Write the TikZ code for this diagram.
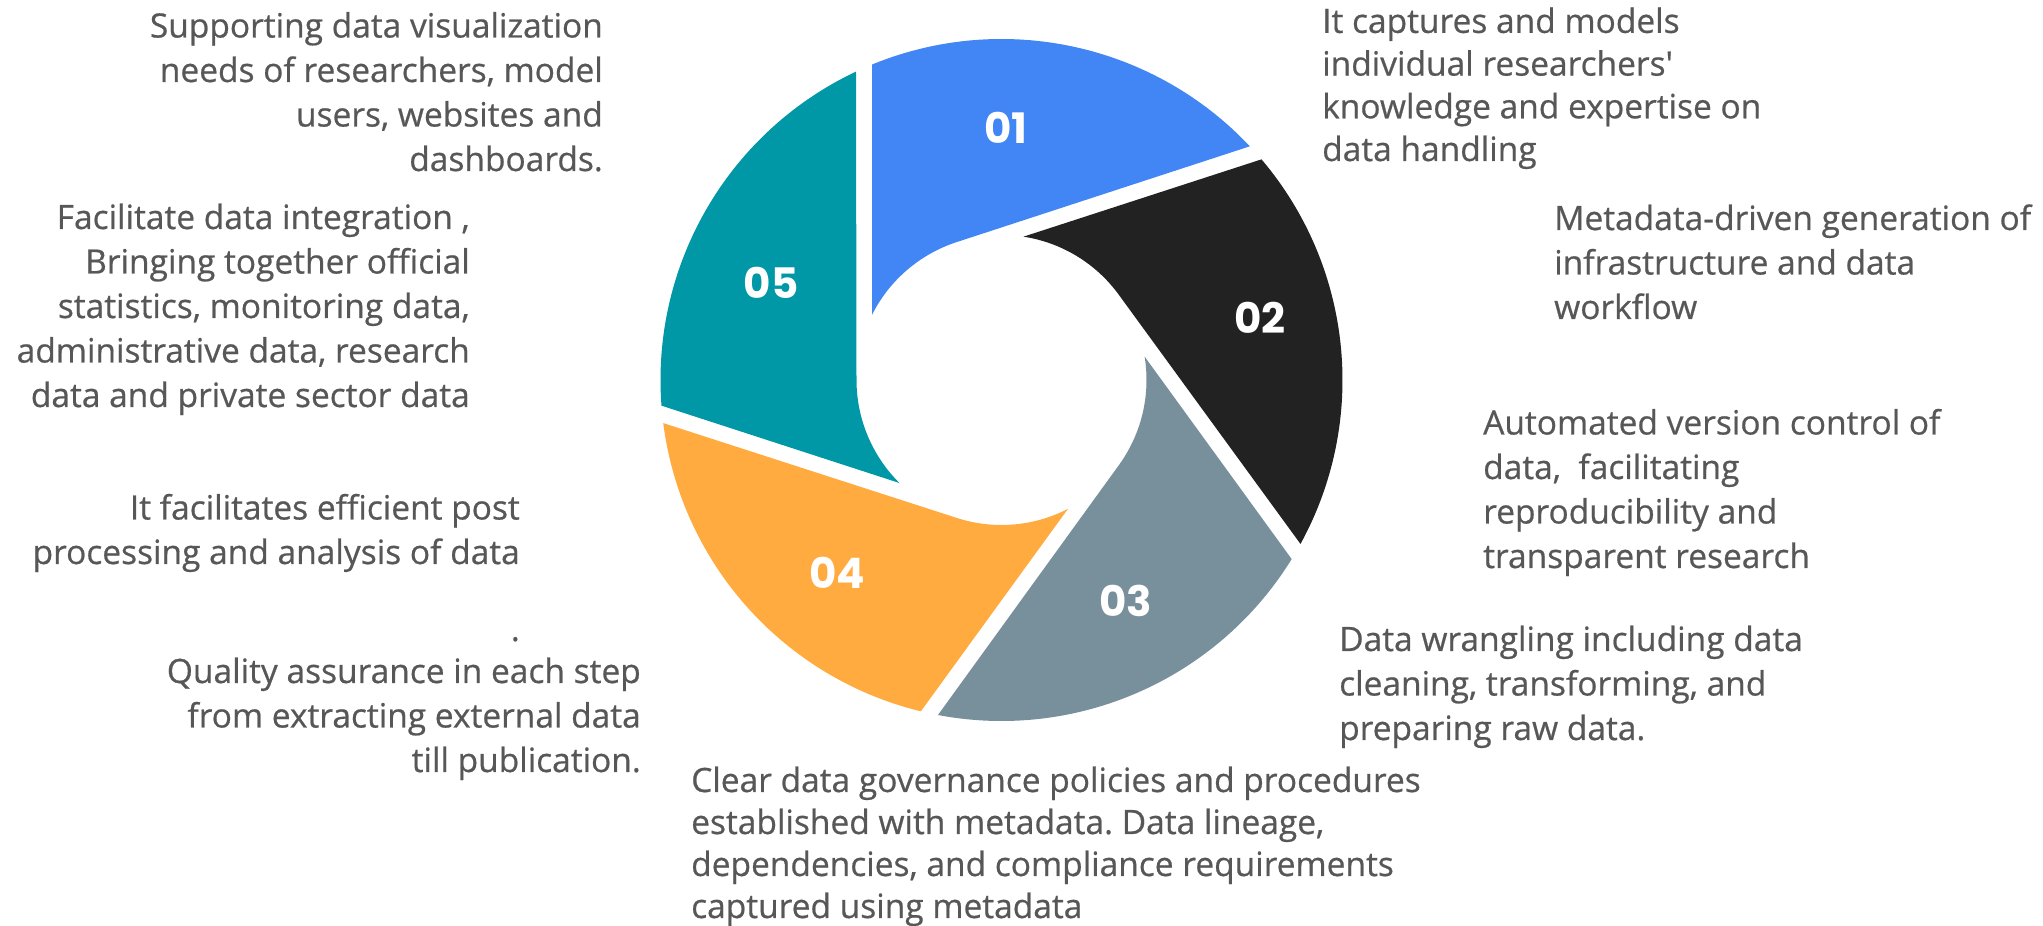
\documentclass[tikz,border=0pt]{standalone}
\usepackage{fontspec}
\setmainfont{Open Sans}[FakeBold=0.6]
\newfontfamily\numfont{Poppins}
\frenchspacing
\definecolor{blue01}{HTML}{4285F4}
\definecolor{dark02}{HTML}{222222}
\definecolor{grey03}{HTML}{78909C}
\definecolor{orange04}{HTML}{FFAB40}
\definecolor{teal05}{HTML}{0097A7}
\definecolor{textgrey}{HTML}{575757}
\tikzset{
  desc/.style={text=textgrey, inner sep=0pt, font=\fontsize{33.5}{44.5}\selectfont},
  descl/.style={desc, align=left, anchor=base west},
  descr/.style={desc, align=right, anchor=base east},
  num/.style={text=white, inner sep=0pt, font=\numfont\bfseries\fontsize{42}{42}\selectfont}
}
\begin{document}
\begin{tikzpicture}[x=1pt, y=1pt]
\useasboundingbox (0,0) rectangle (2043,926);

% shutter ring
\begin{scope}[shift={(1001.5,546)}]
\fill[blue01] (112.32:341) -- (153.28:145) arc[start angle=153.28, end angle=108, radius=145] -- (43.26:341) arc[start angle=43.26, end angle=112.32, radius=341] -- cycle;
\fill[dark02, rotate=-72] (112.32:341) -- (153.28:145) arc[start angle=153.28, end angle=108, radius=145] -- (43.26:341) arc[start angle=43.26, end angle=112.32, radius=341] -- cycle;
\fill[grey03, rotate=-144] (112.32:341) -- (153.28:145) arc[start angle=153.28, end angle=108, radius=145] -- (43.26:341) arc[start angle=43.26, end angle=112.32, radius=341] -- cycle;
\fill[orange04, rotate=-216] (112.32:341) -- (153.28:145) arc[start angle=153.28, end angle=108, radius=145] -- (43.26:341) arc[start angle=43.26, end angle=112.32, radius=341] -- cycle;
\fill[teal05, rotate=-288] (112.32:341) -- (153.28:145) arc[start angle=153.28, end angle=108, radius=145] -- (43.26:341) arc[start angle=43.26, end angle=112.32, radius=341] -- cycle;
\end{scope}

\node[num] (n01) at (1006,798) {01};
\node[num] (n02) at (1260,608) {02};
\node[num] (n03) at (1126,325) {03};
\node[num] (n04) at (837,353) {04};
\node[num] (n05) at (771,643) {05};

% left side (anchored at the last line)
\node[descr] (vis) at (603,755) {Supporting data visualization\\needs of researchers, model\\users, websites and\\dashboards.};
\node[descr] (integ) at (470,519) {Facilitate data integration ,\\Bringing together official\\statistics, monitoring data,\\administrative data, research\\data and private sector data};
\node[descr] (post) at (520,362) {It facilitates efficient post\\processing and analysis of data};
\node[descr] (dot) at (520,285) {.};
\node[descr] (qual) at (641,154) {Quality assurance in each step\\from extracting external data\\till publication.};

% right side
\node[descl, font=\fontsize{33.5}{42.7}\selectfont] (capt) at (1322,765) {It captures and models\\individual researchers\textquotesingle\\knowledge and expertise on\\data handling};
\node[descl] (meta) at (1554,607) {Metadata-driven generation of\\infrastructure and data\\workflow};
\node[descl] (vers) at (1483,358) {Automated version control of\\data,\ \ facilitating\\reproducibility and\\transparent research};
\node[descl] (wrang) at (1339,186) {Data wrangling including data\\cleaning, transforming, and\\preparing raw data.};
\node[descl, font=\fontsize{33.5}{42}\selectfont] (gov) at (691,8) {Clear data governance policies and procedures\\established with metadata. Data lineage,\\dependencies, and compliance requirements\\captured using metadata};
\end{tikzpicture}
\end{document}
